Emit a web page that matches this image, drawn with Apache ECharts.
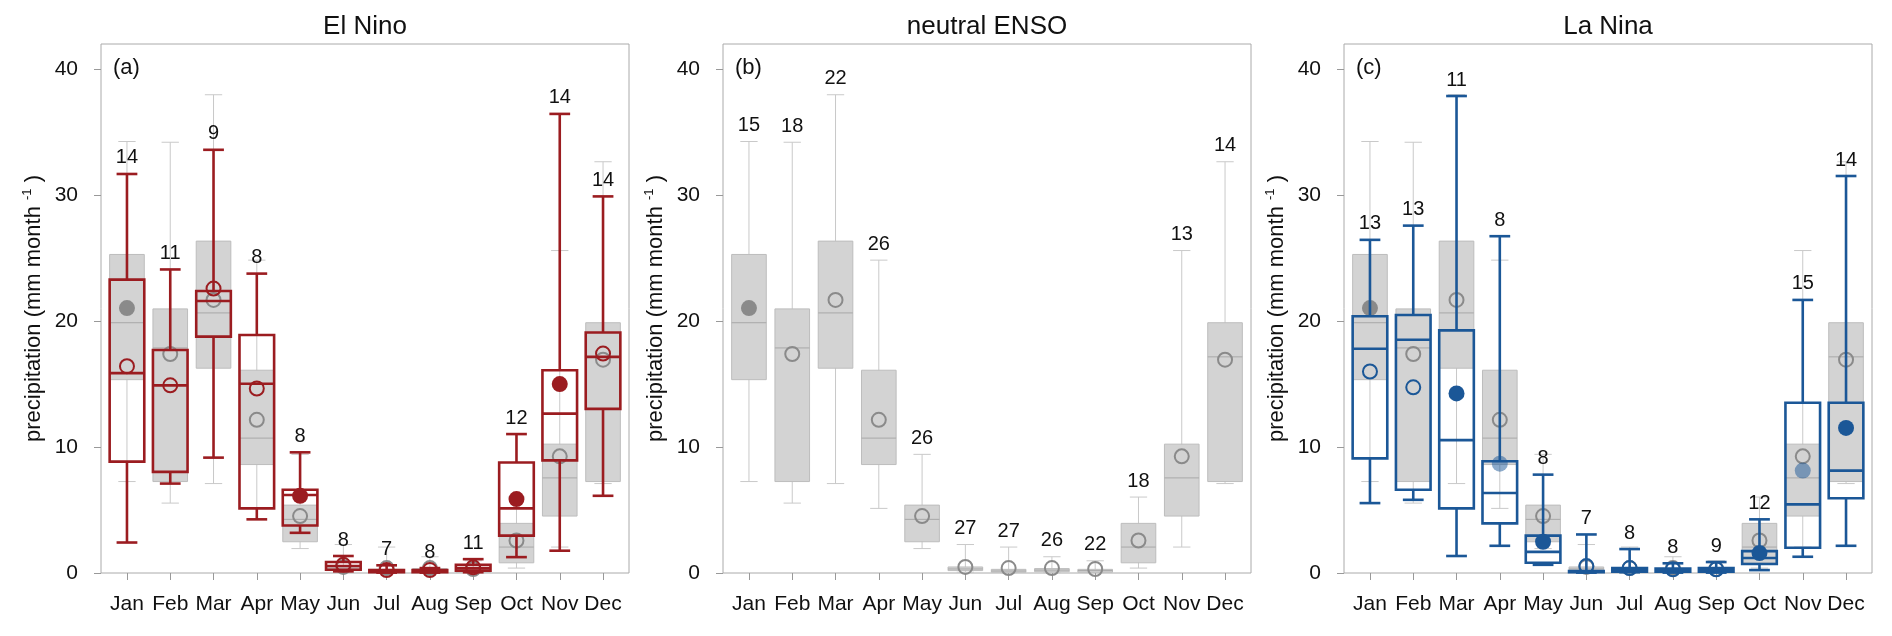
<!DOCTYPE html>
<html>
<head>
<meta charset="utf-8">
<script src="https://cdn.jsdelivr.net/npm/echarts@6/dist/echarts.min.js"></script>
<style>
  html, body { margin: 0; padding: 0; background: #fff; }
  #chart { width: 1892px; height: 636px; }
</style>
</head>
<body>
<div id="chart"></div>
<script>
const months = ['Jan', 'Feb', 'Mar', 'Apr', 'May', 'Jun', 'Jul', 'Aug', 'Sep', 'Oct', 'Nov', 'Dec'];
const monthPos = [1, 2, 3, 4, 5, 6, 7, 8, 9, 10, 11, 12];
const yTicks = [0, 10, 20, 30, 40];

// box stats per month: [lower whisker, q1, median, q3, upper whisker]
const neutralBoxes = [
  [7.26, 15.35, 19.87, 25.29, 34.26],
  [5.55, 7.26, 17.87, 20.97, 34.2],
  [7.1, 16.26, 20.65, 26.35, 37.97],
  [5.13, 8.61, 10.71, 16.1, 24.84],
  [1.94, 2.48, 4.26, 5.39, 9.42],
  [0.06, 0.19, 0.32, 0.48, 2.26],
  [0.03, 0.06, 0.16, 0.29, 2.06],
  [0.03, 0.1, 0.23, 0.35, 1.29],
  [0.03, 0.06, 0.19, 0.29, 0.97],
  [0.39, 0.81, 2.06, 3.94, 6.03],
  [2.06, 4.52, 7.55, 10.23, 25.6],
  [7.1, 7.26, 17.16, 19.87, 32.65]
];
const neutralMeans = [21.03, 17.39, 21.68, 12.16, 4.52, 0.48, 0.39, 0.39, 0.32, 2.58, 9.26, 16.94];
const neutralMeanFill = [1, 0, 0, 0, 0, 0, 0, 0, 0, 0, 0, 0];
const neutralCounts = [15, 18, 22, 26, 26, 27, 27, 26, 22, 18, 13, 14];

const elNinoBoxes = [
  [2.42, 8.84, 15.87, 23.29, 31.68],
  [7.1, 8.03, 14.9, 17.71, 24.1],
  [9.16, 18.77, 21.6, 22.39, 33.6],
  [4.26, 5.13, 15.03, 18.9, 23.77],
  [3.19, 3.77, 6.19, 6.61, 9.58],
  [0.13, 0.26, 0.55, 0.87, 1.35],
  [0.03, 0.06, 0.13, 0.23, 0.61],
  [0.03, 0.06, 0.13, 0.23, 0.39],
  [0.06, 0.19, 0.39, 0.65, 1.1],
  [1.26, 2.97, 5.13, 8.77, 11.03],
  [1.77, 8.94, 12.65, 16.1, 36.45],
  [6.13, 13.03, 17.16, 19.1, 29.9]
];
const elNinoMeans = [16.42, 14.9, 22.58, 14.65, 6.13, 0.65, 0.23, 0.23, 0.45, 5.87, 15.0, 17.42];
const elNinoMeanFill = [0, 0, 0, 0, 1, 0, 0, 0, 0, 1, 1, 0];
const elNinoCounts = [14, 11, 9, 8, 8, 8, 7, 8, 11, 12, 14, 14];

const laNinaBoxes = [
  [5.55, 9.1, 17.81, 20.39, 26.45],
  [5.81, 6.61, 18.52, 20.48, 27.58],
  [1.35, 5.13, 10.55, 19.26, 37.87],
  [2.16, 3.94, 6.35, 8.87, 26.74],
  [0.65, 0.81, 1.68, 2.97, 7.81],
  [0.03, 0.06, 0.1, 0.16, 3.06],
  [0.06, 0.1, 0.23, 0.39, 1.9],
  [0.03, 0.1, 0.23, 0.35, 0.77],
  [0.03, 0.1, 0.23, 0.39, 0.87],
  [0.23, 0.71, 1.19, 1.74, 4.26],
  [1.29, 2.0, 5.45, 13.52, 21.68],
  [2.16, 5.94, 8.13, 13.52, 31.52]
];
const laNinaMeans = [16.0, 14.74, 14.26, 8.68, 2.48, 0.55, 0.39, 0.29, 0.29, 1.58, 8.13, 11.52];
const laNinaMeanFill = [0, 0, 1, 2, 1, 0, 0, 0, 0, 1, 2, 1];
const laNinaCounts = [13, 13, 11, 8, 8, 7, 8, 8, 9, 12, 15, 14];

const panels = [
  { title: 'El Nino', tag: '(a)', left: 101, boxes: elNinoBoxes, means: elNinoMeans, fill: elNinoMeanFill, counts: elNinoCounts, color: '#9b1c20', light: 'rgba(155,28,32,0.5)' },
  { title: 'neutral ENSO', tag: '(b)', left: 723, boxes: null },
  { title: 'La Nina', tag: '(c)', left: 1344, boxes: laNinaBoxes, means: laNinaMeans, fill: laNinaMeanFill, counts: laNinaCounts, color: '#1b5797', light: 'rgba(27,87,151,0.5)' }
];
const gridW = 528, gridTop = 44, gridH = 529;

const GRAY_FILL = '#d3d3d3', GRAY_EDGE = '#bdbdbd', GRAY_LINE = '#c9c9c9', GRAY_MEAN = '#8a8a8a';

function boxRows(boxes) {
  return boxes.map((b, i) => [monthPos[i]].concat(b));
}

function pts(api) {
  const x = api.value(0);
  return {
    cx: api.coord([x, 0])[0],
    lo: api.coord([x, api.value(1)])[1],
    q1: api.coord([x, api.value(2)])[1],
    med: api.coord([x, api.value(3)])[1],
    q3: api.coord([x, api.value(4)])[1],
    hi: api.coord([x, api.value(5)])[1],
    w: api.size([0.8, 0])[0]
  };
}

function line(x1, y1, x2, y2, style) {
  return { type: 'line', shape: { x1, y1, x2, y2 }, style };
}

// white underlay of the coloured boxes
function whiteBox(params, api) {
  const p = pts(api);
  return { type: 'rect', shape: { x: p.cx - p.w / 2, y: p.q3, width: p.w, height: p.q1 - p.q3 }, style: { fill: '#fff' } };
}

function grayBox(params, api) {
  const p = pts(api);
  const cap = api.size([0.4, 0])[0] / 2;
  const s = { stroke: GRAY_LINE, lineWidth: 1 };
  return { type: 'group', children: [
    line(p.cx, p.hi, p.cx, p.lo, s),
    line(p.cx - cap, p.hi, p.cx + cap, p.hi, s),
    line(p.cx - cap, p.lo, p.cx + cap, p.lo, s),
    { type: 'rect', shape: { x: p.cx - p.w / 2, y: p.q3, width: p.w, height: Math.max(p.q1 - p.q3, 1) }, style: { fill: GRAY_FILL, stroke: GRAY_EDGE, lineWidth: 1 } },
    line(p.cx - p.w / 2, p.med, p.cx + p.w / 2, p.med, { stroke: '#a8a8a8', lineWidth: 1 })
  ] };
}

function colorBox(color) {
  return function (params, api) {
    const p = pts(api);
    const cap = api.size([0.48, 0])[0] / 2;
    const s = { stroke: color, lineWidth: 2.6 };
    return { type: 'group', children: [
      line(p.cx, p.q3, p.cx, p.hi, s),
      line(p.cx, p.q1, p.cx, p.lo, s),
      line(p.cx - cap, p.hi, p.cx + cap, p.hi, s),
      line(p.cx - cap, p.lo, p.cx + cap, p.lo, s),
      { type: 'rect', shape: { x: p.cx - p.w / 2, y: p.q3, width: p.w, height: p.q1 - p.q3 }, style: { fill: null, stroke: color, lineWidth: 2.6 } },
      line(p.cx - p.w / 2, p.med, p.cx + p.w / 2, p.med, s)
    ] };
  };
}

function meanDots(color, light) {
  return function (params, api) {
    const c = api.coord([api.value(0), api.value(1)]);
    const f = api.value(2);
    if (f === 1) return { type: 'circle', shape: { cx: c[0], cy: c[1], r: 8 }, style: { fill: color } };
    if (f === 2) return { type: 'circle', shape: { cx: c[0], cy: c[1], r: 8 }, style: { fill: light } };
    return { type: 'circle', shape: { cx: c[0], cy: c[1], r: 7 }, style: { fill: null, stroke: color, lineWidth: 2 } };
  };
}

function countText(params, api) {
  const c = api.coord([api.value(0), api.value(1)]);
  return { type: 'text', x: c[0], y: c[1] - 16, style: { text: String(api.value(2)), fill: '#111', font: '20px "Liberation Sans", Arial, sans-serif', align: 'center', verticalAlign: 'middle' } };
}

const grids = [], xAxes = [], yAxes = [], series = [], titles = [];
panels.forEach((pn, k) => {
  grids.push({ left: pn.left, top: gridTop, width: gridW, height: gridH, show: true, borderColor: '#aaa', borderWidth: 1, backgroundColor: 'transparent' });
  xAxes.push({
    gridIndex: k, type: 'value', min: 0.4, max: 12.6,
    axisLine: { show: false }, splitLine: { show: false },
    axisTick: { show: true, length: 7, customValues: monthPos, lineStyle: { color: '#999' } },
    axisLabel: { customValues: monthPos, formatter: v => months[Math.round(v) - 1], fontSize: 21, color: '#111', margin: 21, fontFamily: 'Liberation Sans' }
  });
  yAxes.push({
    gridIndex: k, type: 'value', min: 0, max: 42,
    axisLine: { show: false }, splitLine: { show: false },
    axisTick: { show: true, length: 7, customValues: yTicks, lineStyle: { color: '#999' } },
    axisLabel: { customValues: yTicks, fontSize: 21, color: '#111', margin: 23, fontFamily: 'Liberation Sans' },
    name: 'precipitation (mm month {sup|-1} )', nameLocation: 'middle', nameRotate: 90, nameGap: 55,
    nameTextStyle: { fontSize: 22, color: '#111', fontFamily: 'Liberation Sans', rich: { sup: { fontSize: 13, color: '#111', fontFamily: 'Liberation Sans', padding: [0, 0, 12, 0] } } }
  });
  titles.push({ text: pn.title, left: pn.left + gridW / 2, top: 14, textAlign: 'center', padding: 0, textStyle: { fontSize: 26, fontWeight: 'normal', color: '#111', fontFamily: 'Liberation Sans' } });
  titles.push({ text: pn.tag, left: pn.left + 12, top: 57, padding: 0, textStyle: { fontSize: 22, fontWeight: 'normal', color: '#111', fontFamily: 'Liberation Sans' } });

  const axes = { xAxisIndex: k, yAxisIndex: k };
  const grayMeanRows = neutralMeans.map((m, i) => [monthPos[i], m, neutralMeanFill[i]]);
  if (pn.boxes) {
    series.push(Object.assign({ type: 'custom', renderItem: whiteBox, data: boxRows(pn.boxes), silent: true }, axes));
  }
  series.push(Object.assign({ type: 'custom', renderItem: grayBox, data: boxRows(neutralBoxes), silent: true }, axes));
  series.push(Object.assign({ type: 'custom', renderItem: meanDots(GRAY_MEAN, GRAY_MEAN), data: grayMeanRows, silent: true }, axes));
  if (pn.boxes) {
    series.push(Object.assign({ type: 'custom', renderItem: colorBox(pn.color), data: boxRows(pn.boxes), silent: true }, axes));
    series.push(Object.assign({ type: 'custom', renderItem: meanDots(pn.color, pn.light), data: pn.means.map((m, i) => [monthPos[i], m, pn.fill[i]]), silent: true }, axes));
    series.push(Object.assign({ type: 'custom', renderItem: countText, data: pn.boxes.map((b, i) => [monthPos[i], b[4], pn.counts[i]]), silent: true }, axes));
  } else {
    series.push(Object.assign({ type: 'custom', renderItem: countText, data: neutralBoxes.map((b, i) => [monthPos[i], b[4], neutralCounts[i]]), silent: true }, axes));
  }
});

const chart = echarts.init(document.getElementById('chart'));
chart.setOption({
  animation: false,
  backgroundColor: '#fff',
  textStyle: { fontFamily: 'Liberation Sans' },
  title: titles,
  grid: grids,
  xAxis: xAxes,
  yAxis: yAxes,
  series: series
});
</script>
</body>
</html>
